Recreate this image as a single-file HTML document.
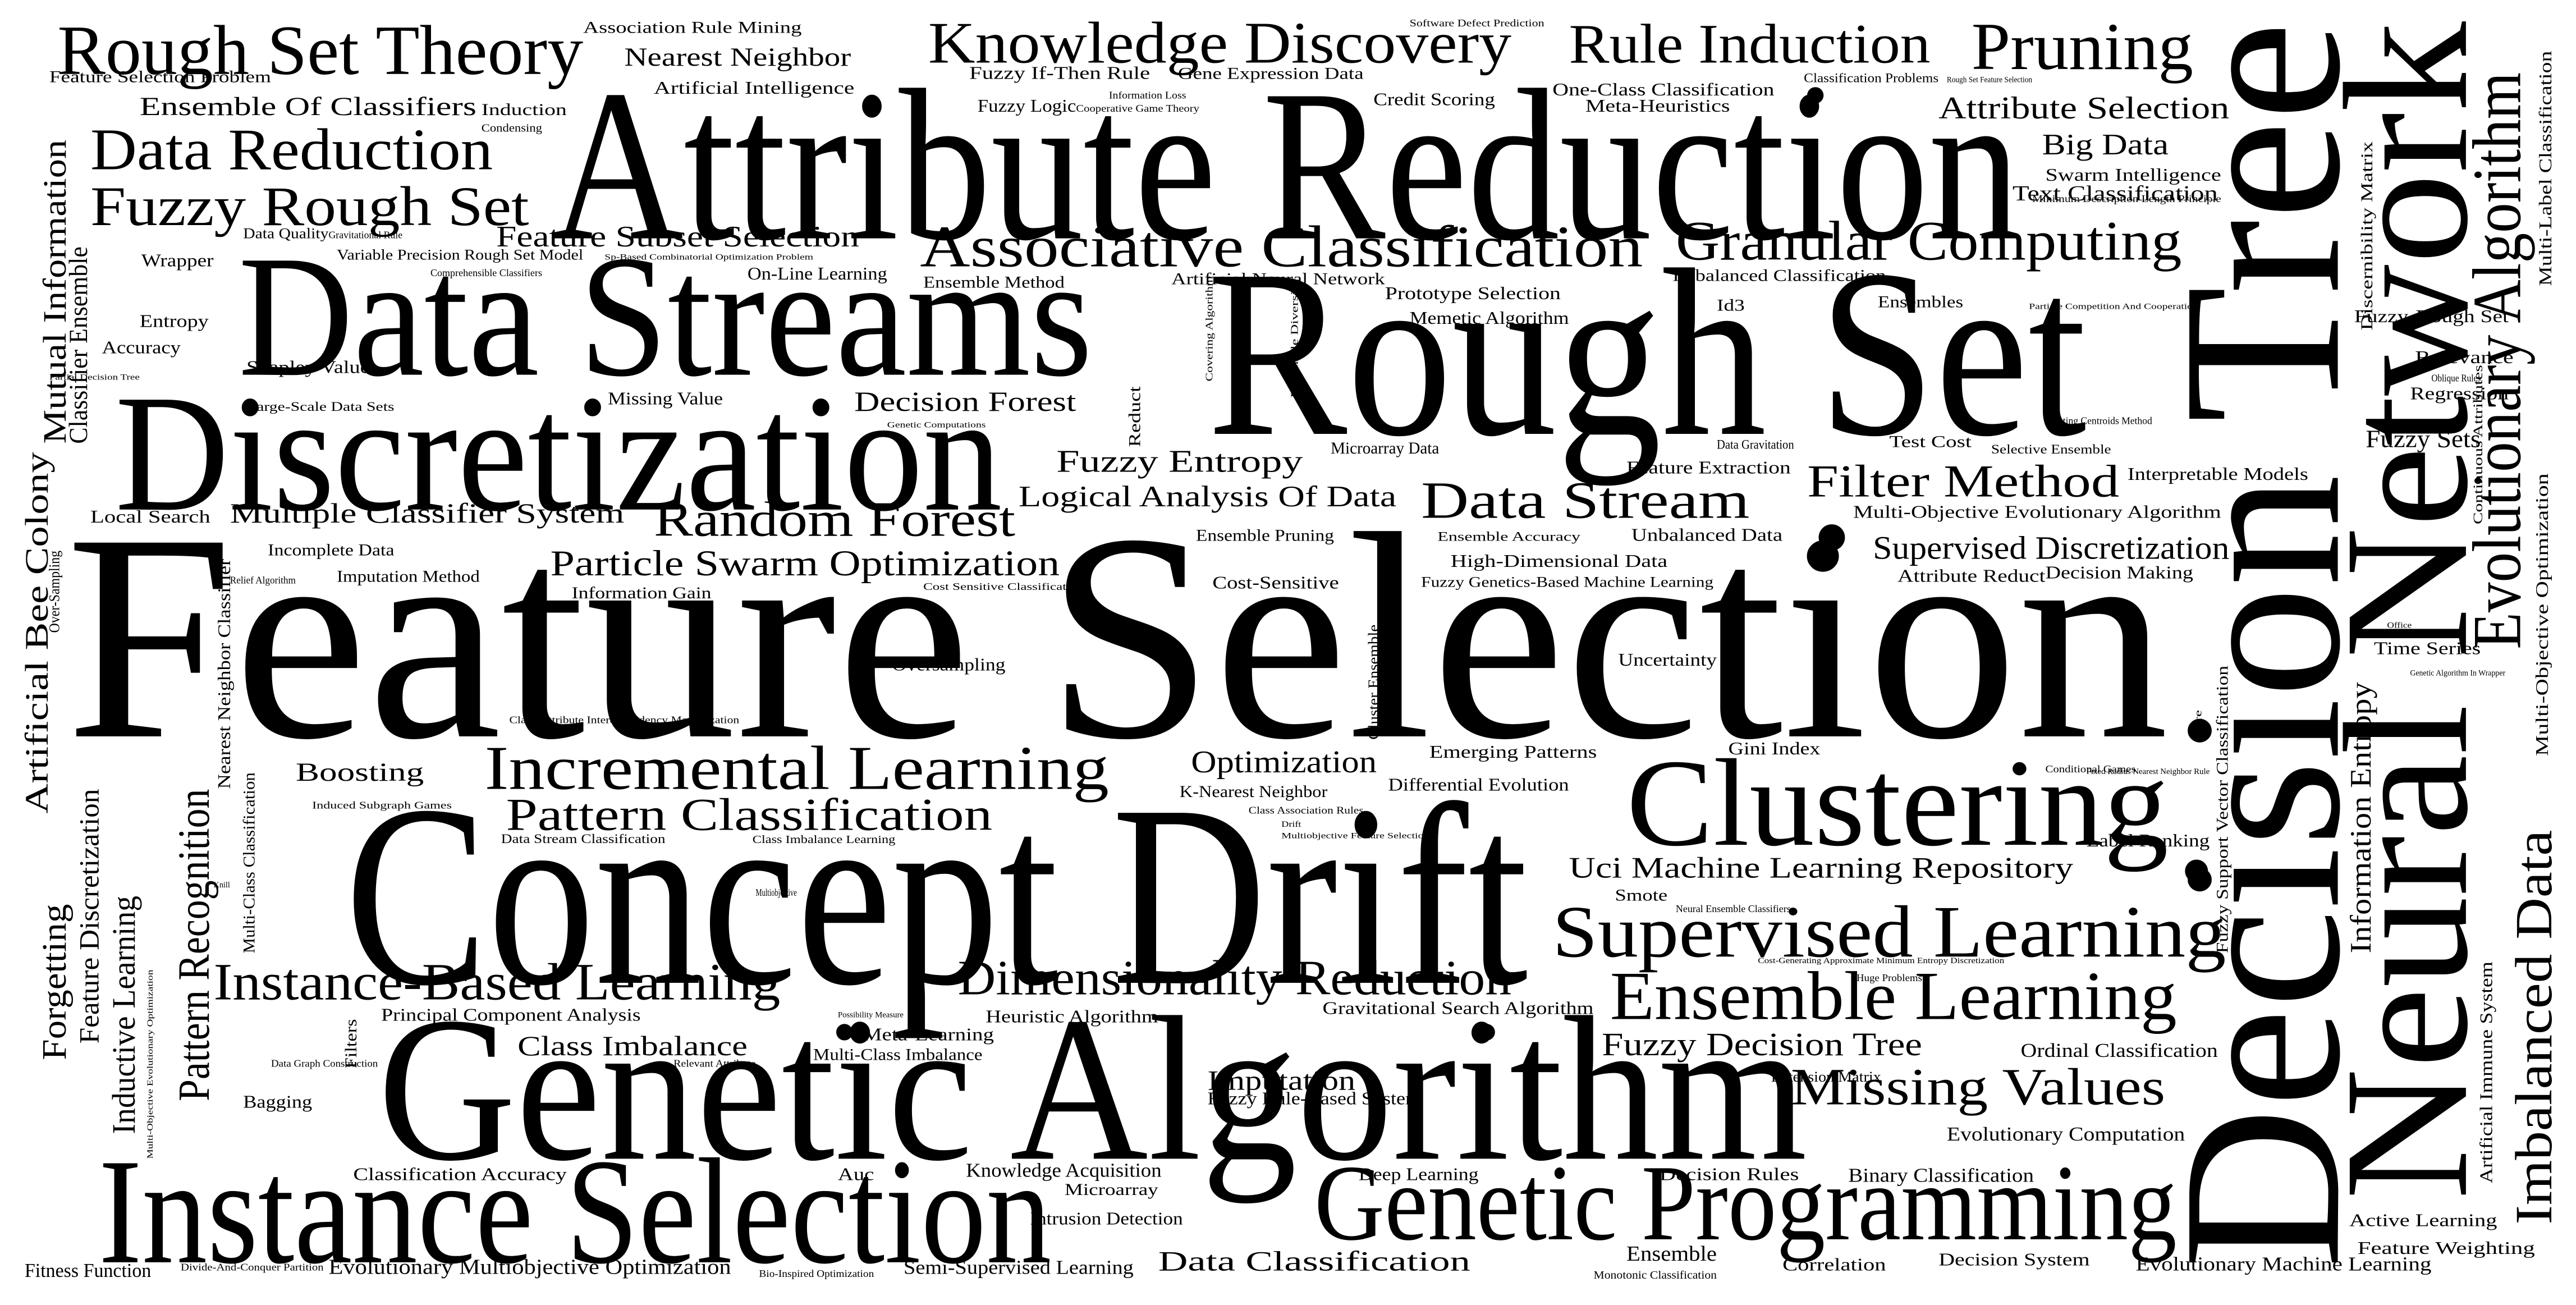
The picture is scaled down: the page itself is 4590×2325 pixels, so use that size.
<!DOCTYPE html>
<html><head><meta charset="utf-8"><style>
html,body{margin:0;padding:0;background:#fff;}
svg{display:block;}
text{font-family:"Liberation Serif",serif;fill:#000;}
</style></head><body>
<svg id="cloud" width="4590" height="2325" viewBox="0 0 1568 794" preserveAspectRatio="none" xmlns="http://www.w3.org/2000/svg">
<rect x="0" y="0" width="1568" height="794" fill="#fff"/>
</svg>
<script>
// horizontal words: [text, x-start, x-end, baseline, size]
const hWords = [
["Feature Selection",40,1320,448,180],
["Attribute Reduction",335,1230,145,132],
["Rough Set",735,1270,264,146],
["Concept Drift",210,930,598,158],
["Genetic Algorithm",230,1100,705,126],
["Data Streams",145,665,228,106],
["Discretization",70,610,310,102],
["Instance Selection",60,640,768,92],
["Clustering",990,1320,514,76],
["Genetic Programming",800,1325,754,66],
["Supervised Learning",945,1355,582,45],
["Ensemble Learning",980,1325,620,42],
["Rough Set Theory",35,355,45,43],
["Knowledge Discovery",565,920,38,36],
["Rule Induction",955,1175,38,34],
["Pruning",1200,1335,42,41],
["Data Reduction",55,300,103,36],
["Fuzzy Rough Set",55,322,137,34],
["Associative Classification",560,1000,162,36],
["Granular Computing",1020,1328,158,34],
["Incremental Learning",295,675,480,38],
["Pattern Classification",308,604,505,28],
["Instance-Based Learning",130,475,608,32],
["Dimensionality Reduction",583,920,605,30],
["Missing Values",1090,1318,672,32],
["Data Stream",865,1065,315,32],
["Filter Method",1100,1290,302,28],
["Random Forest",398,618,326,30],
["Particle Swarm Optimization",335,645,350,22],
["Supervised Discretization",1140,1357,340,20],
["Fuzzy Decision Tree",975,1170,642,20],
["Uci Machine Learning Repository",955,1262,534,18],
["Attribute Selection",1180,1357,72,19],
["Big Data",1243,1320,94,18],
["Feature Subset Selection",302,523,150,18],
["Decision Forest",520,655,250,17],
["Fuzzy Entropy",643,793,287,19],
["Logical Analysis Of Data",620,850,308,18],
["Multiple Classifier System",140,380,318,17],
["Optimization",725,838,470,19],
["Class Imbalance",315,455,642,17],
["Imputation",735,825,663,17],
["Boosting",180,258,475,16],
["Text Classification",1225,1350,122,13],
["Nearest Neighbor",380,518,40,16],
["Ensemble Of Classifiers",85,290,70,16],
["Binary Classification",1125,1238,719,12],
["Evolutionary Computation",1185,1330,694,12],
["Ordinal Classification",1230,1350,643,12],
["Label Ranking",1270,1345,515,11],
["Decision Making",1245,1335,352,11],
["Time Series",1445,1510,398,11],
["Fuzzy Sets",1440,1510,272,15],
["Regression",1467,1527,243,11],
["Relevance",1470,1530,221,11],
["Fuzzy-Rough Set",1433,1527,196,11],
["Swarm Intelligence",1245,1352,110,11],
["Active Learning",1430,1520,746,11],
["Feature Weighting",1435,1543,763,11],
["Evolutionary Machine Learning",1300,1480,773,12],
["Decision System",1180,1272,770,11],
["Correlation",1085,1148,773,11],
["Decision Rules",1010,1095,718,11],
["Ensemble",990,1045,767,13],
["Data Classification",705,895,773,17],
["Semi-Supervised Learning",550,690,775,12],
["Evolutionary Multiobjective Optimization",200,445,775,13],
["Fitness Function",15,92,777,12],
["Intrusion Detection",627,720,745,11],
["Knowledge Acquisition",588,707,716,12],
["Microarray",648,705,727,10],
["Deep Learning",827,900,718,11],
["Auc",510,532,718,11],
["Classification Accuracy",215,345,718,11],
["Bagging",148,190,674,11],
["Fuzzy Rule-Based System",735,865,672,11],
["Meta-Learning",525,605,633,11],
["Multi-Class Imbalance",495,598,645,10],
["Principal Component Analysis",232,390,621,11],
["Heuristic Algorithm",600,705,622,11],
["Gravitational Search Algorithm",805,970,617,11],
["Extension Matrix",1078,1145,658,9],
["Smote",983,1015,548,10],
["K-Nearest Neighbor",718,808,485,10],
["Differential Evolution",845,955,481,11],
["Emerging Patterns",870,972,461,11],
["Gini Index",1052,1108,459,11],
["Uncertainty",985,1045,405,11],
["Oversampling",543,612,408,11],
["Cost-Sensitive",738,815,358,11],
["High-Dimensional Data",883,1015,345,11],
["Attribute Reduct",1155,1245,354,11],
["Multi-Objective Evolutionary Algorithm",1128,1352,315,11],
["Unbalanced Data",993,1085,329,11],
["Feature Extraction",990,1090,288,11],
["Microarray Data",810,876,276,10],
["Test Cost",1150,1200,272,10],
["Selective Ensemble",1212,1285,276,8],
["Interpretable Models",1295,1405,292,11],
["Prototype Selection",843,950,182,11],
["Memetic Algorithm",858,955,197,11],
["Ensembles",1143,1195,187,10],
["Imbalanced Classification",1018,1148,171,10],
["Id3",1045,1062,189,10],
["Artificial Neural Network",713,843,173,10],
["Ensemble Method",562,648,175,10],
["On-Line Learning",455,540,170,11],
["Credit Scoring",836,910,64,11],
["Meta-Heuristics",965,1053,68,11],
["One-Class Classification",945,1080,58,11],
["Classification Problems",1098,1180,50,8],
["Fuzzy If-Then Rule",590,700,48,11],
["Gene Expression Data",717,830,48,10],
["Fuzzy Logic",595,655,68,11],
["Artificial Intelligence",398,520,57,11],
["Association Rule Mining",355,488,20,10],
["Feature Selection Problem",30,165,50,10],
["Induction",293,345,70,10],
["Condensing",293,330,80,7],
["Data Quality",148,200,145,9],
["Variable Precision Rough Set Model",205,355,158,9],
["Wrapper",86,130,162,11],
["Entropy",85,127,199,11],
["Accuracy",62,110,215,11],
["Shapley Value",150,225,227,11],
["Large-Scale Data Sets",150,240,250,8],
["Missing Value",370,440,246,11],
["Local Search",55,128,318,11],
["Incomplete Data",163,240,338,10],
["Imputation Method",205,292,354,10],
["Information Gain",348,433,364,10],
["Ensemble Pruning",728,812,329,10],
["Ensemble Accuracy",875,962,329,8],
["Fuzzy Genetics-Based Machine Learning",865,1043,357,9],
["Cost Sensitive Classification",562,660,359,6],
["Relief Algorithm",140,180,355,6],
["Software Defect Prediction",858,940,16,6],
["Information Loss",675,722,60,6],
["Cooperative Game Theory",655,730,68,6],
["Rough Set Feature Selection",1185,1237,50,5],
["Minimum Description Length Principle",1237,1352,123,6],
["Gravitational Rule",200,245,145,6],
["Comprehensible Classifiers",262,330,168,6],
["Sp-Based Combinatorial Optimization Problem",368,495,158,5],
["Partial Decision Tree",30,85,231,5],
["Genetic Computations",540,600,260,5],
["Floating Centroids Method",1245,1310,258,6],
["Oblique Rules",1480,1510,232,6],
["Particle Competition And Cooperation",1235,1338,188,5],
["Data Gravitation",1045,1092,273,8],
["Class-Attribute Interdependency Maximization",310,450,440,6],
["Induced Subgraph Games",190,275,492,6],
["Data Stream Classification",305,405,513,8],
["Class Imbalance Learning",458,545,513,7],
["Class Association Rules",760,830,495,6],
["Drift",780,792,503,5],
["Multiobjective Feature Selection",780,870,510,5],
["Neural Ensemble Classifiers",1020,1090,555,6],
["Cost-Generating Approximate Minimum Entropy Discretization",1070,1220,586,5],
["Huge Problems",1130,1170,597,6],
["Possibility Measure",510,550,619,5],
["Data Graph Construction",165,230,649,6],
["Relevant Attribute",410,460,649,6],
["Multiobjective",460,485,545,6],
["Knill",130,140,540,5],
["Conditional Games",1245,1300,470,6],
["Fixed Radius Nearest Neighbor Rule",1270,1345,471,5],
["Genetic Algorithm In Wrapper",1467,1525,411,5],
["Office",1453,1468,382,5],
["Bio-Inspired Optimization",462,532,777,6],
["Divide-And-Conquer Partition",110,197,773,6],
["Monotonic Classification",970,1045,778,7]
];
// vertical words (read bottom to top): [text, baseline-x, y-bottom, y-top, size]
const vWords = [
["Decision Tree",1423,772,13,138],
["Neural Network",1501,730,13,108],
["Evolutionary Algorithm",1534,395,44,42],
["Imbalanced Data",1553,745,505,32],
["Information Entropy",1443,580,415,18],
["Artificial Immune System",1517,720,585,11],
["Multi-Objective Optimization",1551,460,288,11],
["Multi-Label Classification",1553,174,31,11],
["Discernibility Matrix",1444,201,86,10],
["Continuous Attributes",1511,319,222,8],
["Fuzzy Support Vector Classification",1356,580,405,10],
["Cluster Ensemble",839,450,380,9],
["Core",1340,450,432,6],
["Mutual Information",40,270,85,20],
["Classifier Ensemble",53,270,150,16],
["Artificial Bee Colony",29,495,275,20],
["Over-Sampling",36,385,335,9],
["Feature Discretization",60,635,480,17],
["Forgetting",40,645,550,21],
["Inductive Learning",82,690,545,20],
["Multi-Objective Evolutionary Optimization",93,705,590,5],
["Pattern Recognition",127,670,480,27],
["Nearest Neighbor Classifier",140,480,340,11],
["Multi-Class Classification",155,580,470,10],
["Filters",217,650,620,10],
["Reduct",694,272,235,10],
["Covering Algorithm",738,232,168,6],
["Ensemble Diversity",790,242,170,6]
];
// filled dots: [cx, cy, r]
const dots = [[1115,327,8],[1337,530,7],[1105,58,5],[514,628,5],[905,628,5]];

const svg = document.getElementById('cloud');
const NS = 'http://www.w3.org/2000/svg';
function slug(s){return s.toLowerCase().replace(/[^a-z0-9]+/g,'-').replace(/^-|-$/g,'');}
hWords.forEach(w=>{
  const t = document.createElementNS(NS,'text');
  t.setAttribute('x', w[1]);
  t.setAttribute('y', w[3]);
  t.setAttribute('font-size', w[4]);
  t.setAttribute('textLength', w[2]-w[1]);
  t.setAttribute('lengthAdjust','spacingAndGlyphs');
  t.textContent = w[0];
  
  
  svg.appendChild(t);
});
vWords.forEach(w=>{
  const t = document.createElementNS(NS,'text');
  t.setAttribute('x', 0);
  t.setAttribute('y', 0);
  t.setAttribute('transform','translate('+w[1]+','+w[2]+') rotate(-90)');
  t.setAttribute('font-size', w[4]);
  t.setAttribute('textLength', w[2]-w[3]);
  t.setAttribute('lengthAdjust','spacingAndGlyphs');
  t.textContent = w[0];
  
  
  svg.appendChild(t);
});
dots.forEach(d=>{
  const c = document.createElementNS(NS,'circle');
  c.setAttribute('cx', d[0]);
  c.setAttribute('cy', d[1]);
  c.setAttribute('r', d[2]);
  c.setAttribute('fill','#000');
  
  
  svg.appendChild(c);
});
</script>
</body></html>
